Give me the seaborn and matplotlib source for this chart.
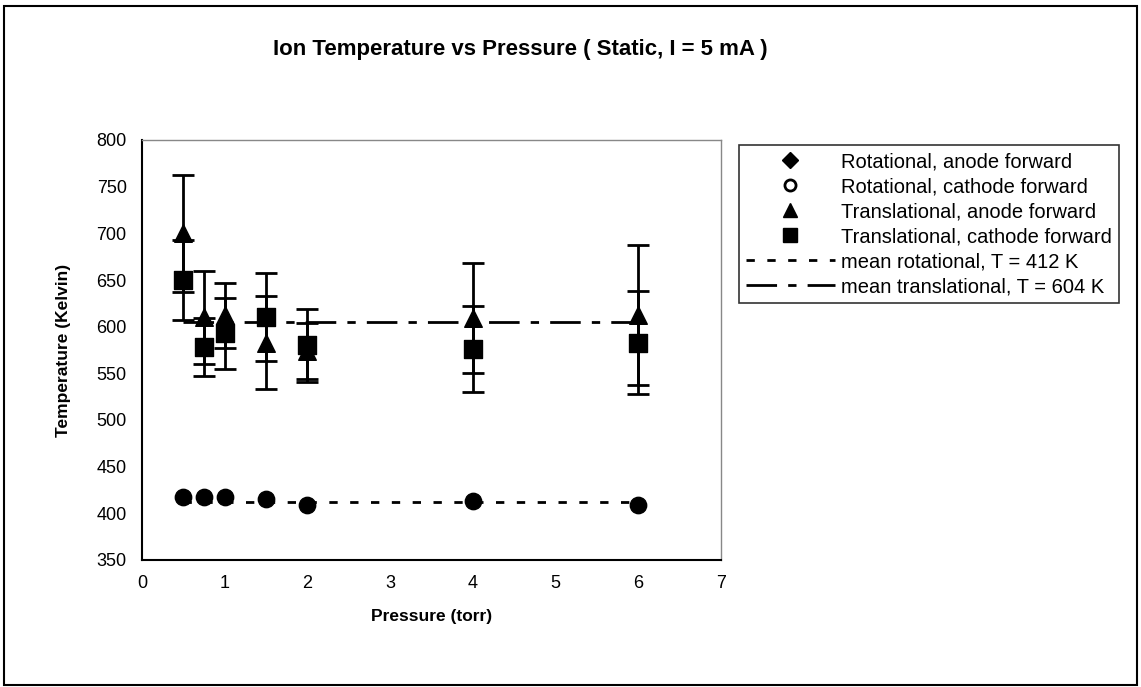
import matplotlib
matplotlib.use("Agg")
import matplotlib.pyplot as plt
from matplotlib.lines import Line2D
from matplotlib.patches import Rectangle
import seaborn as sns

# ---- data ----
pressure = [0.5, 0.75, 1.0, 1.5, 2.0, 4.0, 6.0]
rot_anode = [417, 418, 417, 415, 409, 413, 409]
trans_anode = [700, 610, 612, 583, 574, 609, 613]
trans_anode_err = [63, 50, 35, 50, 30, 59, 75]
trans_cathode = [650, 578, 593, 610, 580, 576, 583]
trans_cathode_err = [43, 31, 38, 47, 39, 46, 55]
mean_rot = 412
mean_trans = 605
mean_x = [0.5, 6.0]

title = "Ion Temperature vs Pressure ( Static, I = 5 mA )"
legend_labels = ["Rotational, anode forward", "Rotational, cathode forward",
                 "Translational, anode forward", "Translational, cathode forward",
                 "mean rotational, T = 412 K", "mean translational, T = 604 K"]

sns.set_theme(style="white")
plt.rcParams['font.family'] = ['Liberation Sans', 'DejaVu Sans']
for k in ['text.color', 'axes.labelcolor', 'xtick.color', 'ytick.color']:
    plt.rcParams[k] = 'black'

DOT = (0, (3, 4.5))
DASHDOT = (0, (11, 4, 3, 4))

W, H = 1141, 687
fig = plt.figure(figsize=(W / 100, H / 100), dpi=100)
ax = fig.add_axes([142 / W, 1 - 560 / H, (721 - 142) / W, (560 - 140) / H])

# outer border
fig.patches.append(Rectangle((4 / W, 2 / H), (1137 - 4) / W, (681 - 2) / H,
                             transform=fig.transFigure, fill=False,
                             edgecolor='black', linewidth=1.5))

# mean lines
sns.lineplot(x=mean_x, y=[mean_rot] * 2, ax=ax, color='black', linestyle=DOT,
             linewidth=2)
sns.lineplot(x=mean_x, y=[mean_trans] * 2, ax=ax, color='black',
             linestyle=DASHDOT, linewidth=2)

# error bars
ax.errorbar(pressure, trans_anode, yerr=trans_anode_err, fmt='none', ecolor='black',
            elinewidth=2, capsize=8, capthick=2, zorder=3)
ax.errorbar(pressure, trans_cathode, yerr=trans_cathode_err, fmt='none', ecolor='black',
            elinewidth=2, capsize=8, capthick=2, zorder=3)

# markers
sns.scatterplot(x=pressure, y=rot_anode, ax=ax, marker='o', s=140, color='black',
                edgecolor='black', zorder=4)
sns.scatterplot(x=pressure, y=trans_anode, ax=ax, marker='^', s=160, color='black',
                edgecolor='black', zorder=4)
sns.scatterplot(x=pressure, y=trans_cathode, ax=ax, marker='s', s=150, color='black',
                edgecolor='black', zorder=4)

ax.set_xlim(0, 7)
ax.set_ylim(350, 800)
ax.set_xticks(range(0, 8))
ax.set_yticks(range(350, 801, 50))
ax.tick_params(direction='inout', length=10, width=1.2, colors='black',
               labelsize=13, pad=6)
for s in ['left', 'bottom']:
    ax.spines[s].set_color('black')
    ax.spines[s].set_linewidth(1.5)
for s in ['top', 'right']:
    ax.spines[s].set_color('#888888')
    ax.spines[s].set_linestyle((0, (1, 1)))
    ax.spines[s].set_linewidth(1)

ax.set_xlabel("Pressure (torr)", fontsize=12.5, fontweight='bold', labelpad=12)
ax.set_ylabel("Temperature (Kelvin)", fontsize=12.5, fontweight='bold', labelpad=18)

fig.text(520 / W, 1 - 50 / H, title, ha='center', va='center', fontsize=16,
         fontweight='bold')

handles = [
    Line2D([], [], marker='D', color='black', linestyle='none', markersize=8),
    Line2D([], [], marker='o', markerfacecolor='white', markeredgecolor='black',
           markeredgewidth=2, linestyle='none', markersize=8),
    Line2D([], [], marker='^', color='black', linestyle='none', markersize=10),
    Line2D([], [], marker='s', color='black', linestyle='none', markersize=10),
    Line2D([], [], color='black', linestyle=DOT, linewidth=2),
    Line2D([], [], color='black', linestyle=DASHDOT, linewidth=2),
]
leg = fig.legend(handles, legend_labels, loc='upper left',
                 bbox_to_anchor=(739 / W, 1 - 145 / H), fontsize=14.5,
                 frameon=True, fancybox=False, handlelength=4.4, handletextpad=0.3,
                 labelspacing=0.3, borderpad=0.35, borderaxespad=0)
leg.get_frame().set_edgecolor('black')
leg.get_frame().set_linewidth(1.2)

fig.savefig("out.png", dpi=100)
